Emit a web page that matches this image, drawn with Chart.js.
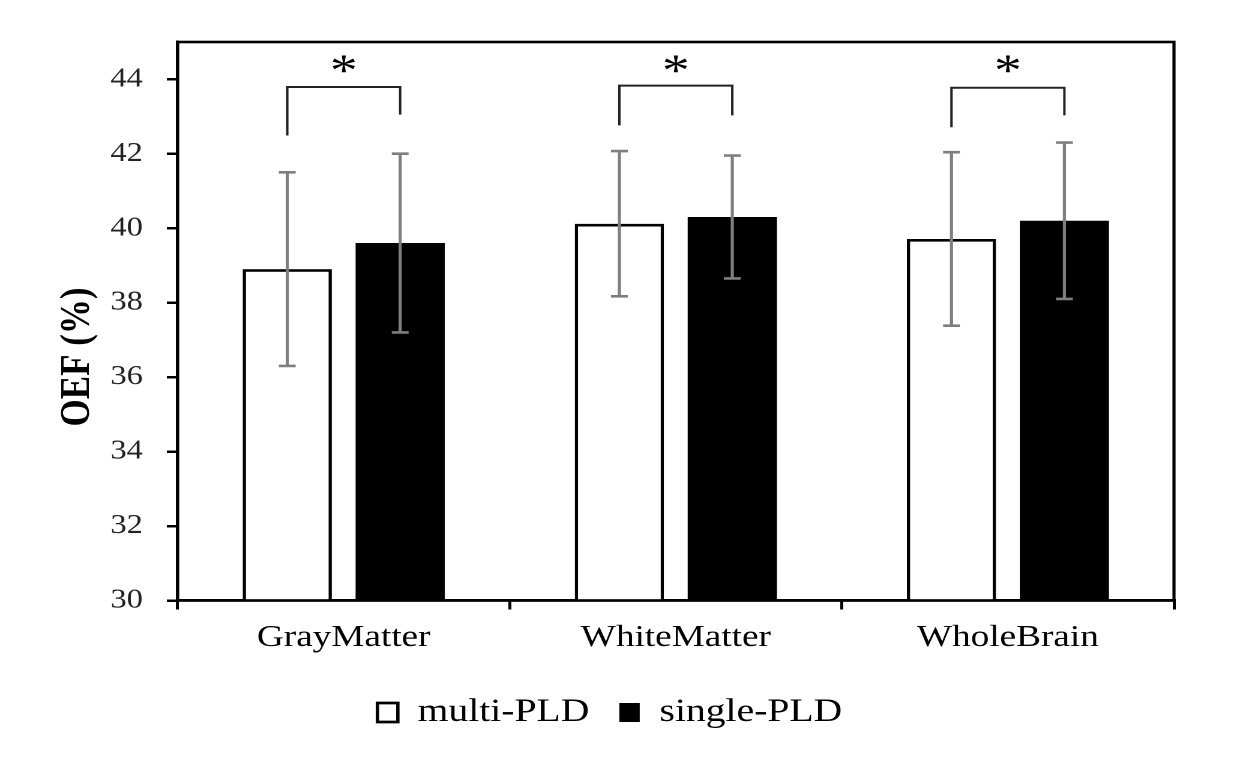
<!DOCTYPE html>
<html>
<head>
<meta charset="utf-8">
<title>OEF multi-PLD vs single-PLD</title>
<script src="https://cdn.jsdelivr.net/npm/chart.js@4.4.0/dist/chart.umd.min.js"></script>
<style>
    html, body { margin: 0; padding: 0; background: #fff; }
    #oefChart { display: block; }
</style>
</head>
<body>
<!-- drawn at 1033 wide and stretched to 1240, like the original figure -->
<canvas id="oefChart" width="1033" height="761" style="width:1240px;height:761px;"></canvas>
<script>
// Data
const categories = ['GrayMatter', 'WhiteMatter', 'WholeBrain'];
const multiPLD = [38.9, 40.12, 39.71];
const singlePLD = [39.6, 40.3, 40.2];
const multiErr = [2.6, 1.95, 2.33];
const singleErr = [2.4, 1.65, 2.1];
const yTicks = [30, 32, 34, 36, 38, 40, 42, 44];

// significance brackets (values on the OEF axis)
const bracketTop = [43.79, 43.83, 43.77];
const bracketLeftEnd = [42.49, 42.76, 42.71];
const bracketRightEnd = [43.05, 43.03, 43.03];
const sigLabels = ['*', '*', '*'];
const sigLevel = 44.42;

const FONT = "'Liberation Serif', 'Times New Roman', serif";

const errorBars = {
    id: 'errorBars',
    afterDatasetsDraw(chart) {
        const ctx = chart.ctx;
        const y = chart.scales.y;
        const errs = [multiErr, singleErr];
        ctx.save();
        ctx.strokeStyle = '#7f7f7f';
        ctx.lineWidth = 2.6;
        chart.data.datasets.forEach((ds, di) => {
            const meta = chart.getDatasetMeta(di);
            meta.data.forEach((bar, i) => {
                const v = ds.data[i];
                const top = y.getPixelForValue(v + errs[di][i]);
                const bot = y.getPixelForValue(v - errs[di][i]);
                const cap = 7;
                ctx.beginPath();
                ctx.moveTo(bar.x, top);
                ctx.lineTo(bar.x, bot);
                ctx.moveTo(bar.x - cap, top);
                ctx.lineTo(bar.x + cap, top);
                ctx.moveTo(bar.x - cap, bot);
                ctx.lineTo(bar.x + cap, bot);
                ctx.stroke();
            });
        });
        ctx.restore();
    }
};

const brackets = {
    id: 'brackets',
    afterDatasetsDraw(chart) {
        const ctx = chart.ctx;
        const y = chart.scales.y;
        const m0 = chart.getDatasetMeta(0);
        const m1 = chart.getDatasetMeta(1);
        ctx.save();
        ctx.strokeStyle = '#222';
        ctx.lineWidth = 2;
        categories.forEach((c, i) => {
            const xl = m0.data[i].x;
            const xr = m1.data[i].x;
            const yt = y.getPixelForValue(bracketTop[i]);
            ctx.beginPath();
            ctx.moveTo(xl, y.getPixelForValue(bracketLeftEnd[i]));
            ctx.lineTo(xl, yt);
            ctx.lineTo(xr, yt);
            ctx.lineTo(xr, y.getPixelForValue(bracketRightEnd[i]));
            ctx.stroke();
            ctx.fillStyle = '#000';
            ctx.font = '46px ' + FONT;
            ctx.textAlign = 'center';
            ctx.textBaseline = 'middle';
            ctx.fillText(sigLabels[i], (xl + xr) / 2, y.getPixelForValue(sigLevel) + 10);
        });
        ctx.restore();
    }
};

// box round the plot and the y title
const frame = {
    id: 'frame',
    afterDraw(chart) {
        const ctx = chart.ctx;
        const a = chart.chartArea;
        ctx.save();
        ctx.strokeStyle = '#000';
        ctx.lineWidth = 2.6;
        ctx.strokeRect(a.left, a.top, a.right - a.left, a.bottom - a.top);
        ctx.translate(65, 357);
        ctx.rotate(-Math.PI / 2);
        ctx.fillStyle = '#000';
        ctx.font = 'bold 35px ' + FONT;
        ctx.textAlign = 'center';
        ctx.textBaseline = 'middle';
        ctx.fillText('OEF (%)', 0, 0);
        ctx.restore();
    }
};

new Chart(document.getElementById('oefChart'), {
    type: 'bar',
    data: {
        labels: categories,
        datasets: [{
            label: 'multi-PLD',
            data: multiPLD,
            backgroundColor: '#fff',
            borderColor: '#000',
            borderWidth: 2.8,
            categoryPercentage: 0.68,
            barPercentage: 0.79
        }, {
            label: 'single-PLD',
            data: singlePLD,
            backgroundColor: '#000',
            borderColor: '#000',
            borderWidth: 0,
            categoryPercentage: 0.68,
            barPercentage: 0.79
        }]
    },
    options: {
        responsive: false,
        devicePixelRatio: 2,
        animation: false,
        layout: { padding: { top: 42, right: 17, left: 0, bottom: 22 } },
        plugins: {
            tooltip: { enabled: false },
            legend: {
                position: 'bottom',
                labels: {
                    color: '#000',
                    boxWidth: 17,
                    boxHeight: 19,
                    padding: 25,
                    font: { family: FONT, size: 33 }
                }
            }
        },
        scales: {
            x: {
                afterFit(scale) { scale.height = 70.5; },
                grid: {
                    display: true,
                    drawOnChartArea: false,
                    tickLength: 9,
                    color: '#000',
                    lineWidth: 2.5
                },
                border: { color: '#000', width: 2.6 },
                ticks: {
                    color: '#000',
                    padding: 10,
                    font: { family: FONT, size: 31 }
                }
            },
            y: {
                min: 30,
                max: 45,
                afterFit(scale) { scale.width = 148; },
                afterBuildTicks(scale) {
                    scale.ticks = yTicks.map(v => ({ value: v }));
                },
                grid: {
                    display: true,
                    drawOnChartArea: false,
                    tickLength: 9,
                    color: '#000',
                    lineWidth: 2.5
                },
                border: { color: '#000', width: 2.6 },
                ticks: {
                    color: '#222',
                    padding: 20,
                    font: { family: FONT, size: 27 }
                }
            },
            // empty right-hand box so the legend stays centred on the page
            yRight: {
                position: 'right',
                min: 30,
                max: 45,
                afterFit(scale) { scale.width = 38; },
                grid: { display: false },
                border: { display: false },
                ticks: { display: false }
            }
        }
    },
    plugins: [errorBars, brackets, frame]
});
</script>
</body>
</html>
